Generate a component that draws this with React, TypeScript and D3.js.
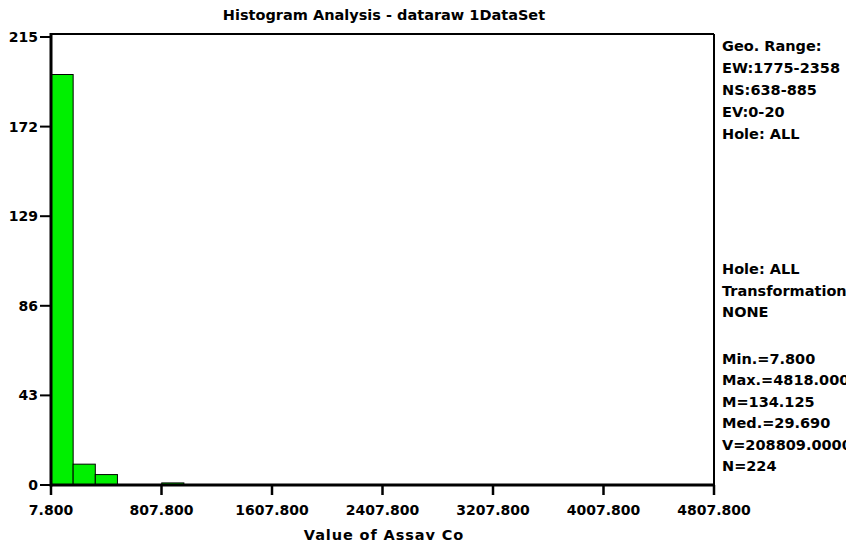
import React from "react";
import * as d3 from "d3";

const title = "Histogram Analysis - dataraw 1DataSet";
const xLabel = "Value of Assav Co";
const binStart = 7.8;
const binWidth = 160.34;
const counts = [197, 10, 5, 0, 0, 1, 0, 0, 0, 0, 0, 0, 0, 0, 0, 0, 0, 0, 0, 0, 0, 0, 0, 0, 0, 0, 0, 0, 0, 0];
const xTicks = [7.8, 807.8, 1607.8, 2407.8, 3207.8, 4007.8, 4807.8];
const yTicks = [0, 43, 86, 129, 172, 215];
const infoTop = ["Geo. Range:", "EW:1775-2358", "NS:638-885", "EV:0-20", "Hole: ALL"];
const infoMid = ["Hole: ALL", "Transformation", "NONE"];
const infoStats = ["Min.=7.800", "Max.=4818.000", "M=134.125", "Med.=29.690", "V=208809.0000", "N=224"];

const W = 846, H = 543;
const L = 51, R = 714, T = 34, B = 485;

export default function App() {
  const x = d3.scaleLinear().domain([7.8, 4807.8]).range([L, R]);
  const y = d3.scaleLinear().domain([0, 215]).range([B, 37]);
  const font = "'DejaVu Sans', sans-serif";
  return (
    <svg width={W} height={H} style={{ position: "absolute", left: 0, top: 0, background: "#fff" }}
      fontFamily={font} fontWeight="bold">
      <rect x={0} y={0} width={W} height={H} fill="#fff" />
      <text x={384} y={20} textAnchor="middle" fontSize={14.5}>{title}</text>
      {counts.map((c, i) => c > 0 ? (
        <rect key={i} x={x(binStart + i * binWidth)} y={y(c)}
          width={x(binStart + (i + 1) * binWidth) - x(binStart + i * binWidth)}
          height={B - y(c)} fill="#00f000" stroke="#000" strokeWidth={1} />
      ) : null)}
      <line x1={L} x2={R} y1={T} y2={T} stroke="#000" strokeWidth={2} />
      <line x1={R} x2={R} y1={T} y2={B} stroke="#000" strokeWidth={2} />
      <line x1={L} x2={L} y1={T - 1} y2={B + 1.5} stroke="#000" strokeWidth={3} />
      <line x1={L} x2={R} y1={B} y2={B} stroke="#000" strokeWidth={3} />
      {yTicks.map(t => (
        <g key={t}>
          <line x1={L - 11} x2={L} y1={y(t)} y2={y(t)} stroke="#000" strokeWidth={2} />
          <text x={L - 13} y={y(t) + 5} textAnchor="end" fontSize={14}>{t}</text>
        </g>
      ))}
      {xTicks.map(t => (
        <g key={t}>
          <line x1={x(t)} x2={x(t)} y1={B} y2={B + 10} stroke="#000" strokeWidth={2.5} />
          <text x={x(t)} y={B + 30} textAnchor="middle" fontSize={14}>{t.toFixed(3)}</text>
        </g>
      ))}
      <text x={384} y={540} textAnchor="middle" fontSize={14.5} letterSpacing={0.9}>{xLabel}</text>
      {infoTop.map((s, i) => (
        <text key={"a" + i} x={722} y={51 + i * 22} fontSize={14.5}>{s}</text>
      ))}
      {infoMid.map((s, i) => (
        <text key={"b" + i} x={722} y={274 + i * 21.5} fontSize={14.5}>{s}</text>
      ))}
      {infoStats.map((s, i) => (
        <text key={"c" + i} x={722} y={364 + i * 21.4} fontSize={14.5}>{s}</text>
      ))}
    </svg>
  );
}
